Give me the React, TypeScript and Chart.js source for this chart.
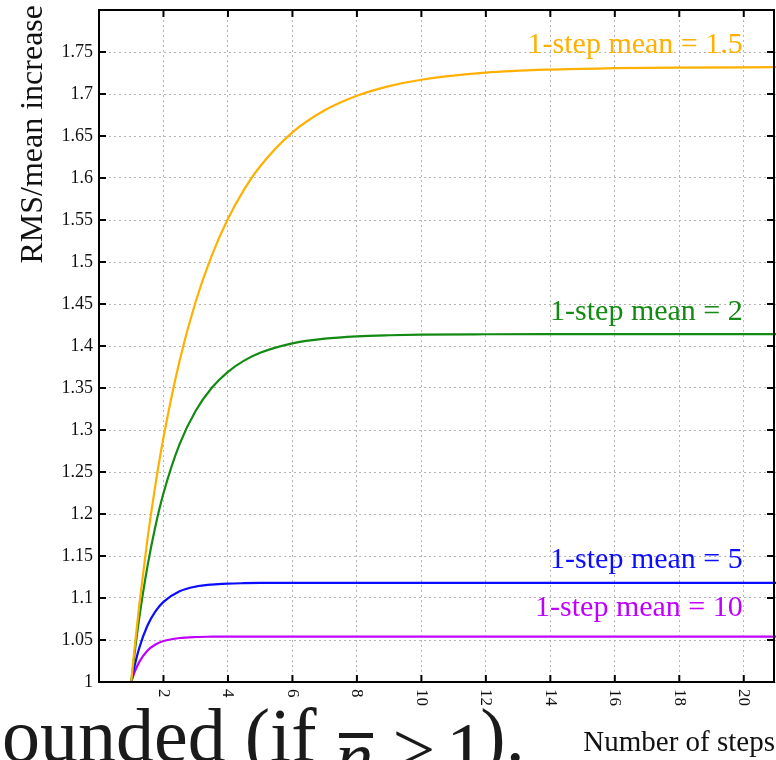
import React, { useEffect, useRef } from 'react';
import { Chart, registerables } from 'chart.js';

Chart.register(...registerables);

// Number of steps (x) at which each curve is sampled
const steps = [1, 1.1, 1.25, 1.5, 1.75, 2, 2.5, 3, 3.5, 4, 4.5, 5, 6, 7, 8, 9, 10, 12, 14, 16, 18, 21];

// RMS / mean increase
const mean15 = [1, 1.039, 1.0922, 1.1692, 1.2347, 1.291, 1.3825, 1.453, 1.508, 1.5516, 1.5862, 1.614, 1.6543, 1.6806, 1.6979, 1.7094, 1.717, 1.7254, 1.7291, 1.7307, 1.7315, 1.7319];
const mean2 = [1, 1.0329, 1.0766, 1.1371, 1.1855, 1.2247, 1.2831, 1.3229, 1.3503, 1.3693, 1.3826, 1.3919, 1.4031, 1.4087, 1.4115, 1.4128, 1.4135, 1.414, 1.4142, 1.4142, 1.4142, 1.4142];
const mean5 = [1, 1.0184, 1.0406, 1.0669, 1.0841, 1.0954, 1.108, 1.1136, 1.116, 1.1171, 1.1176, 1.1179, 1.118, 1.118, 1.118, 1.118, 1.118, 1.118, 1.118, 1.118, 1.118, 1.118];
const mean10 = [1, 1.0114, 1.024, 1.0373, 1.0447, 1.0488, 1.0524, 1.0536, 1.0539, 1.054, 1.0541, 1.0541, 1.0541, 1.0541, 1.0541, 1.0541, 1.0541, 1.0541, 1.0541, 1.0541, 1.0541, 1.0541];

const seriesValues = [mean15, mean2, mean5, mean10];
const seriesLabels = ['1-step mean = 1.5', '1-step mean = 2', '1-step mean = 5', '1-step mean = 10'];
const seriesColors = ['#ffb000', '#138a13', '#0c0cff', '#c000ff'];
const labelX = [20, 20, 20, 20];
const labelY = [1.749, 1.431, 1.136, 1.079];

const xTicks = [2, 4, 6, 8, 10, 12, 14, 16, 18, 20];
const yTicks = [1, 1.05, 1.1, 1.15, 1.2, 1.25, 1.3, 1.35, 1.4, 1.45, 1.5, 1.55, 1.6, 1.65, 1.7, 1.75];
const xTitle = 'Number of steps';
const yTitle = 'RMS/mean increase';

const SERIF = '"Liberation Serif", "Times New Roman", Times, serif';

const framePlugin = {
  id: 'frame',
  afterDatasetsDraw(chart: any) {
    const { ctx, chartArea } = chart;
    const xs = chart.scales.x;
    const ys = chart.scales.y;
    const { left, right, top, bottom } = chartArea;
    const r = right - 2;
    ctx.save();
    // frame
    ctx.strokeStyle = '#000';
    ctx.lineWidth = 2;
    ctx.setLineDash([]);
    ctx.beginPath();
    ctx.moveTo(left, top);
    ctx.lineTo(r, top);
    ctx.lineTo(r, bottom);
    ctx.lineTo(left, bottom);
    ctx.closePath();
    ctx.stroke();
    // inward tick marks
    const tl = 7;
    ctx.beginPath();
    xTicks.forEach((v) => {
      const px = xs.getPixelForValue(v);
      ctx.moveTo(px, bottom);
      ctx.lineTo(px, bottom - tl);
      ctx.moveTo(px, top);
      ctx.lineTo(px, top + tl);
    });
    yTicks.forEach((v) => {
      const py = ys.getPixelForValue(v);
      ctx.moveTo(left, py);
      ctx.lineTo(left + tl, py);
      ctx.moveTo(r, py);
      ctx.lineTo(r - tl, py);
    });
    ctx.stroke();
    // x tick labels, rotated clockwise
    ctx.fillStyle = '#111';
    ctx.font = '17px ' + SERIF;
    ctx.textAlign = 'left';
    ctx.textBaseline = 'middle';
    xTicks.forEach((v) => {
      const px = xs.getPixelForValue(v);
      ctx.save();
      ctx.translate(px, bottom + 7);
      ctx.rotate(Math.PI / 2);
      ctx.fillText(String(v), 0, 0);
      ctx.restore();
    });
    // axis titles
    ctx.font = '29px ' + SERIF;
    ctx.textAlign = 'right';
    ctx.textBaseline = 'alphabetic';
    ctx.fillText(xTitle, 775, 751);
    ctx.save();
    ctx.translate(34, 5);
    ctx.rotate(-Math.PI / 2);
    ctx.font = '32px ' + SERIF;
    ctx.textAlign = 'right';
    ctx.textBaseline = 'middle';
    ctx.fillText(yTitle, 0, 0);
    ctx.restore();
    // series labels
    ctx.font = '30px ' + SERIF;
    ctx.textAlign = 'right';
    ctx.textBaseline = 'alphabetic';
    seriesLabels.forEach((t, i) => {
      ctx.fillStyle = seriesColors[i];
      ctx.fillText(t, xs.getPixelForValue(labelX[i]) - 1, ys.getPixelForValue(labelY[i]));
    });
    ctx.restore();
  },
};

export default function App() {
  const ref = useRef<HTMLCanvasElement | null>(null);

  useEffect(() => {
    if (!ref.current) return;
    const chart = new Chart(ref.current, {
      type: 'line',
      data: {
        datasets: seriesValues.map((vals, i) => ({
          label: seriesLabels[i],
          data: steps.map((x, j) => ({ x, y: vals[j] })),
          borderColor: seriesColors[i],
          backgroundColor: seriesColors[i],
          borderWidth: 2.2,
          pointRadius: 0,
          fill: false,
          cubicInterpolationMode: 'monotone' as const,
        })),
      },
      options: {
        animation: false,
        responsive: false,
        devicePixelRatio: 1,
        layout: { padding: { left: 0, top: 10, right: 0, bottom: 78 } },
        plugins: {
          legend: { display: false },
          tooltip: { enabled: false },
        },
        scales: {
          x: {
            type: 'linear',
            min: 0,
            max: 21,
            afterBuildTicks: (s: any) => {
              s.ticks = xTicks.map((v) => ({ value: v }));
            },
            afterFit: (s: any) => {
              s.paddingLeft = 0;
              s.paddingRight = 0;
            },
            ticks: { display: false },
            grid: { color: '#b5b5b5', lineWidth: 1, drawTicks: false },
            border: { display: false, dash: [2, 3] },
          },
          y: {
            type: 'linear',
            min: 1,
            max: 1.8,
            afterBuildTicks: (s: any) => {
              s.ticks = yTicks.map((v) => ({ value: v }));
            },
            afterFit: (s: any) => {
              s.width = 99;
              s.paddingTop = 0;
              s.paddingBottom = 0;
            },
            ticks: {
              color: '#111',
              padding: 6,
              font: { family: SERIF, size: 18 },
              callback: (v: any) => String(+Number(v).toFixed(2)),
            },
            grid: { color: '#b5b5b5', lineWidth: 1, drawTicks: false },
            border: { display: false, dash: [2, 3] },
          },
        },
      },
      plugins: [framePlugin],
    });
    return () => chart.destroy();
  }, []);

  return (
    <div style={{ position: 'absolute', left: 0, top: 0, width: 776, height: 760, overflow: 'hidden', background: '#fff' }}>
      <canvas ref={ref} width={776} height={760} style={{ display: 'block' }} />
      <div
        style={{
          position: 'absolute',
          left: 2,
          top: 697,
          fontFamily: SERIF,
          fontSize: 76,
          lineHeight: 1,
          whiteSpace: 'nowrap',
          color: '#1a1a1a',
        }}
      >
        ounded (if{' '}
        <span style={{ position: 'relative', top: 22, display: 'inline-block' }}>
          <span style={{ fontStyle: 'italic' }}>n</span>
          <span style={{ position: 'absolute', left: 4, width: 34, top: 14, height: 5, background: '#1a1a1a' }} />
        </span>{' '}
        <span style={{ position: 'relative', top: 14 }}>
          <span style={{ marginRight: -8 }}>&gt;</span> 1
        </span>
        <span style={{ marginLeft: -4 }}>).</span>
      </div>
    </div>
  );
}
